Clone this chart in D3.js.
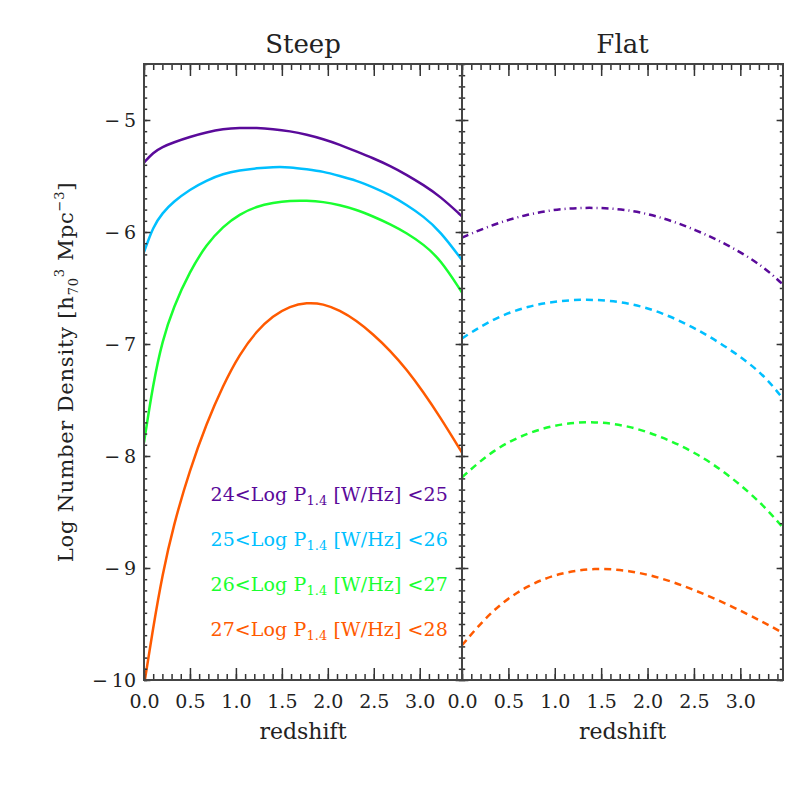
<!DOCTYPE html>
<html>
<head>
<meta charset="utf-8">
<script src="https://cdn.jsdelivr.net/npm/d3@7"></script>
<style>
  body { margin: 0; background: #fff; }
  text { font-family: "DejaVu Serif", serif; fill: #222; }
</style>
</head>
<body>
<svg id="chart"></svg>
<script>
// redshift grids
const zSteep = [0, 0.1, 0.2, 0.32, 0.5, 0.68, 0.86, 1.04, 1.23, 1.4, 1.59, 1.77, 1.95, 2.13, 2.31, 2.49, 2.68, 2.86, 3.04, 3.22, 3.46];
const zFlat = [0, 0.34, 0.71, 1.07, 1.43, 1.8, 2.16, 2.52, 2.88, 3.24, 3.46];

const bins = ['24<Log P', '25<Log P', '26<Log P', '27<Log P'];
const binHi = ['25', '26', '27', '28'];
const colors = ['#5a0a9a', '#00bfff', '#1aff30', '#ff5a00'];

const steep24 = [-5.38, -5.29, -5.24, -5.20, -5.15, -5.11, -5.08, -5.07, -5.07, -5.08, -5.10, -5.13, -5.17, -5.22, -5.28, -5.34, -5.41, -5.49, -5.58, -5.68, -5.86];
const steep25 = [-6.18, -5.95, -5.83, -5.73, -5.62, -5.54, -5.48, -5.45, -5.43, -5.42, -5.42, -5.44, -5.46, -5.50, -5.54, -5.60, -5.67, -5.76, -5.86, -5.99, -6.25];
const steep26 = [-7.88, -7.35, -6.97, -6.67, -6.35, -6.11, -5.95, -5.84, -5.77, -5.74, -5.72, -5.72, -5.73, -5.76, -5.80, -5.86, -5.93, -6.01, -6.11, -6.24, -6.54];
const steep27 = [-10.05, -9.53, -9.06, -8.62, -8.12, -7.71, -7.37, -7.09, -6.88, -6.75, -6.66, -6.63, -6.64, -6.70, -6.79, -6.91, -7.06, -7.23, -7.43, -7.65, -7.97];

const flat24 = [-6.05, -5.93, -5.84, -5.79, -5.78, -5.80, -5.87, -5.98, -6.12, -6.30, -6.47];
const flat25 = [-6.95, -6.77, -6.66, -6.61, -6.60, -6.63, -6.72, -6.86, -7.04, -7.26, -7.49];
const flat26 = [-8.19, -7.94, -7.79, -7.71, -7.69, -7.73, -7.83, -7.97, -8.17, -8.43, -8.64];
const flat27 = [-9.69, -9.36, -9.15, -9.04, -9.00, -9.02, -9.09, -9.20, -9.33, -9.48, -9.58];

const xTicks = [0, 0.5, 1.0, 1.5, 2.0, 2.5, 3.0];
const yTicks = [-10, -9, -8, -7, -6, -5];

const width = 800, height = 800;
const plotTop = 64, plotBottom = 680;
const panels = [
  { title: 'Steep', x0: 144, x1: 462, z: zSteep, series: [steep24, steep25, steep26, steep27], dash: [null, null, null, null] },
  { title: 'Flat', x0: 462, x1: 783, z: zFlat, series: [flat24, flat25, flat26, flat27], dash: ['7,4,1,4', '7,5', '7,5', '7,5'] }
];

const svg = d3.select('#chart')
  .attr('width', width)
  .attr('height', height);

const y = d3.scaleLinear().domain([-10, -4.5]).range([plotBottom, plotTop]);
const minorY = d3.range(-10, -4.5 + 1e-9, 0.1).map(v => +v.toFixed(1));
const minorX = d3.range(0, 3.45, 0.1).map(v => +v.toFixed(1));

panels.forEach((p, pi) => {
  const x = d3.scaleLinear().domain([0, 3.46]).range([p.x0, p.x1]);
  const g = svg.append('g');

  g.append('defs').append('clipPath').attr('id', 'clip' + pi)
    .append('rect').attr('x', p.x0).attr('y', plotTop).attr('width', p.x1 - p.x0).attr('height', plotBottom - plotTop);

  const line = d3.line()
    .x((d, i) => x(p.z[i]))
    .y(d => y(d))
    .curve(d3.curveBasis);

  p.series.forEach((s, i) => {
    g.append('path')
      .datum(s)
      .attr('clip-path', 'url(#clip' + pi + ')')
      .attr('fill', 'none')
      .attr('stroke', colors[i])
      .attr('stroke-width', 2.5)
      .attr('stroke-dasharray', p.dash[i])
      .attr('d', line);
  });

  // axes (ticks inward)
  const ax = (gen, tx, ty, size, vals, labels) => {
    const a = g.append('g').attr('transform', `translate(${tx},${ty})`)
      .call(gen.tickValues(vals).tickSize(size).tickFormat(labels ? (d => d.toFixed(1)) : ''));
    a.select('.domain').remove();
    a.selectAll('line').attr('stroke', '#333').attr('stroke-width', 1.5);
    return a;
  };
  const bx = ax(d3.axisBottom(x), 0, plotBottom, -12, xTicks, true);
  bx.selectAll('text').attr('y', 15).attr('font-size', 19).attr('fill', '#222')
    .attr('font-family', '"DejaVu Serif", serif');
  ax(d3.axisBottom(x), 0, plotBottom, -6, minorX, false);
  ax(d3.axisTop(x), 0, plotTop, -12, xTicks, false);
  ax(d3.axisTop(x), 0, plotTop, -6, minorX, false);

  const ly = ax(d3.axisLeft(y), p.x0, 0, -6.4, yTicks, pi === 0);
  if (pi === 0) {
    ly.selectAll('text').text(d => '\u2212\u2009' + Math.abs(d)).attr('x', -8)
      .attr('font-size', 19).attr('fill', '#222').attr('font-family', '"DejaVu Serif", serif');
  }
  ax(d3.axisLeft(y), p.x0, 0, -3.2, minorY, false);
  ax(d3.axisRight(y), p.x1, 0, -6.4, yTicks, false);
  ax(d3.axisRight(y), p.x1, 0, -3.2, minorY, false);

  g.append('rect')
    .attr('x', p.x0).attr('y', plotTop)
    .attr('width', p.x1 - p.x0).attr('height', plotBottom - plotTop)
    .attr('fill', 'none').attr('stroke', '#444').attr('stroke-width', 2);

  const cx = (p.x0 + p.x1) / 2;
  g.append('text').attr('x', cx).attr('y', 53).attr('text-anchor', 'middle')
    .attr('font-size', 26).text(p.title);
  g.append('text').attr('x', cx).attr('y', 739).attr('text-anchor', 'middle')
    .attr('font-size', 22).text('redshift');
});

// y axis title
const yt = svg.append('text')
  .attr('transform', 'translate(73,372) rotate(-90)')
  .attr('text-anchor', 'middle')
  .attr('font-size', 21)
  .attr('letter-spacing', 0.8);
yt.append('tspan').text('Log Number Density [h');
yt.append('tspan').attr('font-size', 13).attr('dy', 5).text('70');
yt.append('tspan').attr('font-size', 13).attr('dy', -14).text('3');
yt.append('tspan').attr('dy', 9).text(' Mpc');
yt.append('tspan').attr('font-size', 13).attr('dy', -9).text('\u22123');
yt.append('tspan').attr('dy', 9).text(']');

// legend
const legY = [501, 546, 591, 636];
bins.forEach((b, i) => {
  const t = svg.append('text')
    .attr('x', 448).attr('y', legY[i])
    .attr('text-anchor', 'end')
    .attr('font-size', 19)
    .attr('letter-spacing', 0.1)
    .style('fill', colors[i]);
  t.append('tspan').text(b);
  t.append('tspan').attr('font-size', 13).attr('dy', 4).text('1.4');
  t.append('tspan').attr('dy', -4).text(' [W/Hz] <' + binHi[i]);
});
</script>
</body>
</html>
